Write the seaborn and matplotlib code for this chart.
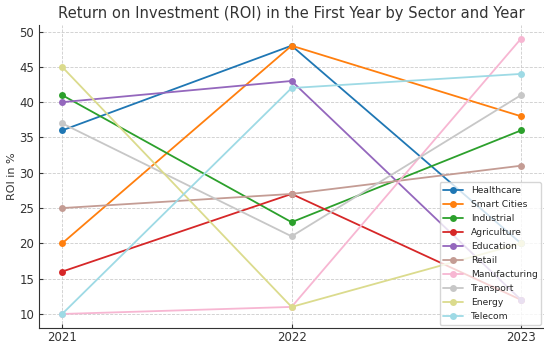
import matplotlib
matplotlib.use("Agg")
import matplotlib.pyplot as plt
import seaborn as sns
import pandas as pd

years = [2021, 2022, 2023]
sectors = ["Healthcare", "Smart Cities", "Industrial", "Agriculture", "Education",
           "Retail", "Manufacturing", "Transport", "Energy", "Telecom"]
healthcare = [36, 48, 20]
smart_cities = [20, 48, 38]
industrial = [41, 23, 36]
agriculture = [16, 27, 12]
education = [40, 43, 12]
retail = [25, 27, 31]
manufacturing = [10, 11, 49]
transport = [37, 21, 41]
energy = [45, 11, 20]
telecom = [10, 42, 44]
colors = ["#1f77b4", "#ff7f0e", "#2ca02c", "#d62728", "#9467bd",
          "#c49c94", "#f7b6d2", "#c7c7c7", "#dbdb8d", "#9edae5"]

series = [healthcare, smart_cities, industrial, agriculture, education,
          retail, manufacturing, transport, energy, telecom]
df = pd.DataFrame([
    {"Year": y, "ROI": v, "Sector": s}
    for s, vals in zip(sectors, series)
    for y, v in zip(years, vals)
])

sns.set_style("ticks")
plt.rcParams["font.family"] = ["DejaVu Sans"]

fig, ax = plt.subplots(figsize=(5.44, 3.45), dpi=100)
sns.lineplot(data=df, x="Year", y="ROI", hue="Sector", hue_order=sectors,
             palette=colors, marker="o", markersize=5, markeredgewidth=0,
             linewidth=1.3, ax=ax)

ax.set_title("Return on Investment (ROI) in the First Year by Sector and Year",
             fontsize=10.6, color="#333333", pad=5)
ax.set_xlabel("")
ax.set_ylabel("ROI in %", fontsize=8, color="#333333", labelpad=1.5)
ax.set_xticks(years)
ax.set_xticklabels([str(y) for y in years])
ax.tick_params(labelsize=8.5, colors="#333333", length=3, direction="in", pad=3.5)
ax.tick_params(axis="x", pad=2.5)
ax.grid(True, linestyle="--", color="#cccccc", linewidth=0.6)
sns.despine(ax=ax)
for s in ["left", "bottom"]:
    ax.spines[s].set_color("#333333")

leg = ax.legend(loc="lower right", fontsize=6.6, frameon=True, title=None,
                labelspacing=0.55, borderaxespad=0.3, handlelength=2.2)

fig.subplots_adjust(left=0.072, right=1.0, top=0.928, bottom=0.05)
fig.savefig("out.png", dpi=100)
